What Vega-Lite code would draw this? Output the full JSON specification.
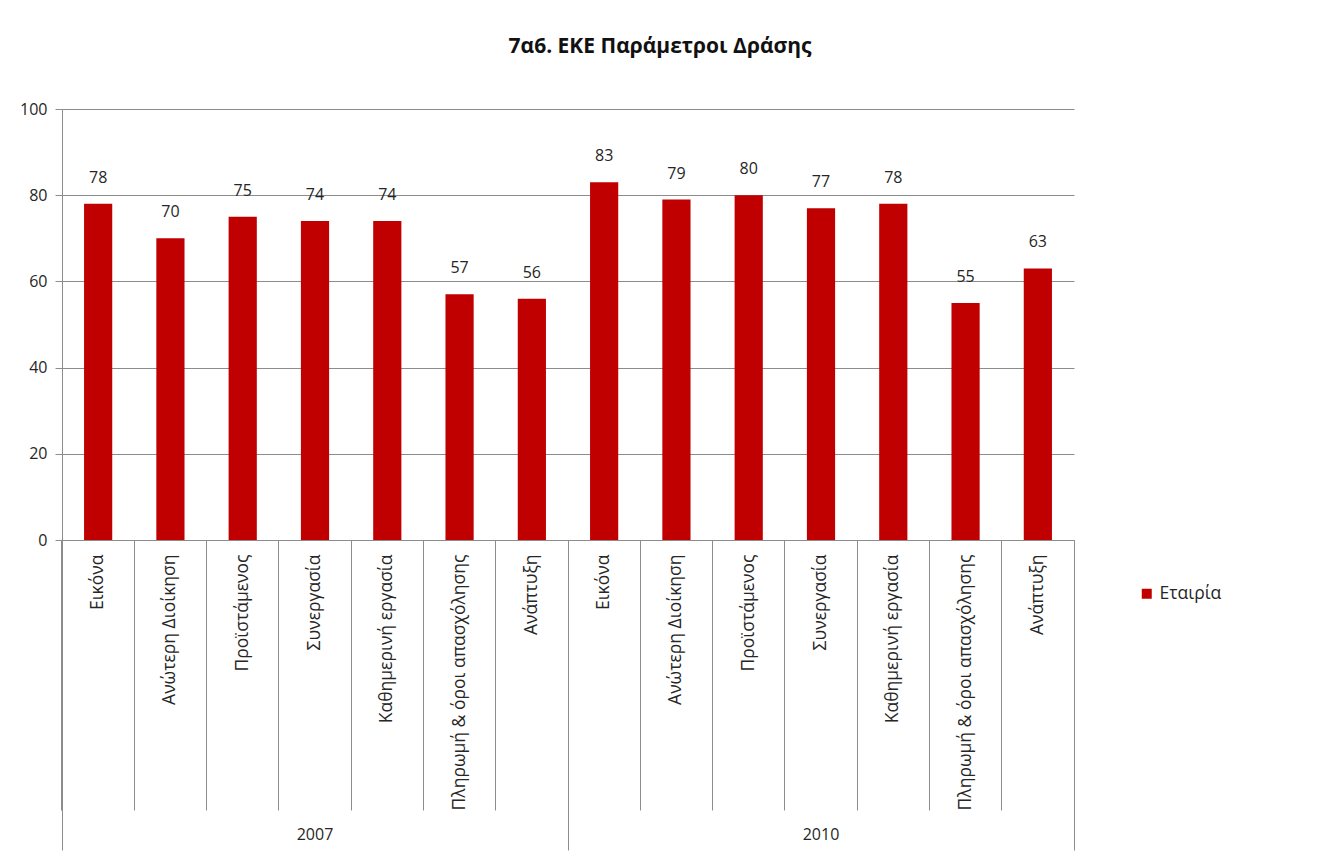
{
  "$schema": "https://vega.github.io/schema/vega-lite/v6.json",
  "width": 1012,
  "height": 431,
  "autosize": {"type": "none"},
  "padding": {"left": 62, "top": 109, "right": 243, "bottom": 327},
  "background": "white",
  "config": {
    "font": "Open Sans",
    "view": {"stroke": null},
    "axis": {"labelFont": "Open Sans", "labelColor": "#262626"},
    "legend": {"labelFont": "Open Sans"}
  },
  "title": {
    "text": "7α6. ΕΚΕ  Παράμετροι Δράσης",
    "fontSize": 21,
    "fontWeight": "bold",
    "font": "Open Sans",
    "color": "#111111",
    "anchor": "middle",
    "frame": "group",
    "dx": 92,
    "offset": 44
  },
  "data": {
    "values": [
      {"year": "2007", "category": "Εικόνα", "value": 78},
      {"year": "2007", "category": "Ανώτερη Διοίκηση", "value": 70},
      {"year": "2007", "category": "Προϊστάμενος", "value": 75},
      {"year": "2007", "category": "Συνεργασία", "value": 74},
      {"year": "2007", "category": "Καθημερινή εργασία", "value": 74},
      {"year": "2007", "category": "Πληρωμή & όροι απασχόλησης", "value": 57},
      {"year": "2007", "category": "Ανάπτυξη", "value": 56},
      {"year": "2010", "category": "Εικόνα", "value": 83},
      {"year": "2010", "category": "Ανώτερη Διοίκηση", "value": 79},
      {"year": "2010", "category": "Προϊστάμενος", "value": 80},
      {"year": "2010", "category": "Συνεργασία", "value": 77},
      {"year": "2010", "category": "Καθημερινή εργασία", "value": 78},
      {"year": "2010", "category": "Πληρωμή & όροι απασχόλησης", "value": 55},
      {"year": "2010", "category": "Ανάπτυξη", "value": 63}
    ]
  },
  "transform": [{"calculate": "datum.year + '|' + datum.category", "as": "key"}],
  "layer": [
    {
      "encoding": {
        "x": {
          "field": "key",
          "type": "nominal",
          "sort": null,
          "scale": {"paddingInner": 0, "paddingOuter": 0},
          "axis": {
            "orient": "bottom",
            "title": null,
            "labelExpr": "split(datum.label, '|')[1]",
            "labelAngle": -90,
            "labelAlign": "right",
            "labelBaseline": "middle",
            "labelPadding": -256,
            "labelFontSize": 17.5,
            "labelLimit": 400,
            "labelOverlap": false,
            "labelBound": false,
            "bandPosition": 1,
            "tickExtra": true,
            "tickSize": 270,
            "tickColor": "#8c8c8c",
            "domainColor": "#8c8c8c",
            "grid": false
          }
        },
        "y": {
          "field": "value",
          "type": "quantitative",
          "scale": {"domain": [0, 100]},
          "axis": {
            "title": null,
            "values": [0, 20, 40, 60, 80, 100],
            "grid": true,
            "gridColor": "#8c8c8c",
            "domainColor": "#8c8c8c",
            "tickColor": "#8c8c8c",
            "tickSize": 7,
            "labelPadding": 8,
            "labelFontSize": 16
          }
        }
      },
      "layer": [
        {
          "mark": {"type": "bar", "width": {"band": 0.39}, "color": "#c00000"},
          "encoding": {
            "color": {
              "datum": "Εταιρία",
              "scale": {"range": ["#c00000"]},
              "legend": {
                "title": null,
                "orient": "none",
                "legendX": 1076,
                "legendY": 476,
                "symbolType": "square",
                "symbolSize": 100,
                "labelFontSize": 17.5,
                "labelColor": "#262626",
                "padding": 0
              }
            }
          }
        },
        {
          "mark": {"type": "text", "baseline": "middle", "align": "center", "dy": -26, "fontSize": 16, "color": "#262626"},
          "encoding": {
            "text": {"field": "value", "type": "quantitative"}
          }
        }
      ]
    },
    {
      "mark": {"type": "tick", "opacity": 0},
      "encoding": {
        "x": {
          "field": "year",
          "type": "nominal",
          "sort": null,
          "scale": {"paddingInner": 0, "paddingOuter": 0},
          "axis": {
            "orient": "bottom",
            "title": null,
            "labelAngle": 0,
            "labelAlign": "center",
            "labelBaseline": "top",
            "labelPadding": -24,
            "labelFontSize": 16,
            "bandPosition": 1,
            "tickExtra": true,
            "tickSize": 310,
            "tickColor": "#8c8c8c",
            "domain": false,
            "grid": false
          }
        }
      }
    }
  ],
  "resolve": {"scale": {"x": "independent"}, "axis": {"x": "independent"}}
}
